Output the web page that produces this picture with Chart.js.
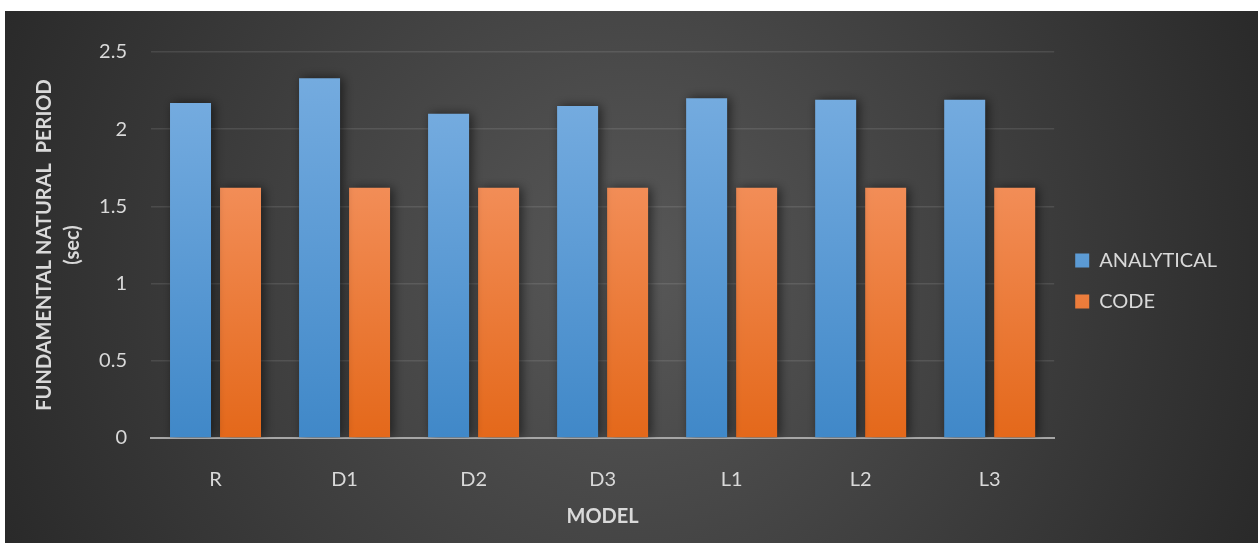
<!DOCTYPE html>
<html>
<head>
<meta charset="utf-8">
<script src="https://cdn.jsdelivr.net/npm/chart.js@4"></script>
<style>
  body { margin: 0; background: #fff; }
  #wrap { position: absolute; left: 5px; top: 11px; width: 1253px; height: 532px; }
</style>
</head>
<body>
<div id="wrap"><canvas id="periodChart"></canvas></div>
<script>
const models = ["R", "D1", "D2", "D3", "L1", "L2", "L3"];
const analytical = [2.17, 2.33, 2.10, 2.15, 2.20, 2.19, 2.19];
const code = [1.62, 1.62, 1.62, 1.62, 1.62, 1.62, 1.62];
const yTitle = ["FUNDAMENTAL NATURAL  PERIOD", "(sec)"];
const xTitle = "MODEL";

const FONT = "Lato";
const TEXT = "#d9d9d9";

// vertical gradient per bar, from the bar top down to zero
function barFill(top, bottom, mid) {
  return (c) => {
    const y = c.chart.scales.y;
    if (c.type !== "data" || !y) return mid;
    const y0 = y.getPixelForValue(c.raw), y1 = y.getPixelForValue(0);
    if (!isFinite(y0) || !isFinite(y1) || y0 === y1) return mid;
    const g = c.chart.ctx.createLinearGradient(0, y0, 0, y1);
    g.addColorStop(0, top);
    g.addColorStop(1, bottom);
    return g;
  };
}

const backdrop = {
  id: "backdrop",
  beforeDraw(chart) {
    const { ctx, width, height } = chart;
    const g = ctx.createRadialGradient(625, 260, 0, 625, 260, 720);
    g.addColorStop(0, "#585858");
    g.addColorStop(1, "#272727");
    ctx.save();
    ctx.fillStyle = g;
    ctx.fillRect(0, 0, width, height);
    ctx.restore();
  }
};

const barShadow = {
  id: "barShadow",
  beforeDatasetsDraw(chart) {
    const ctx = chart.ctx;
    ctx.save();
    ctx.shadowColor = "rgba(0,0,0,0.55)";
    ctx.shadowBlur = 10;
    ctx.shadowOffsetX = 3;
  },
  afterDatasetsDraw(chart) {
    chart.ctx.restore();
  }
};

new Chart(document.getElementById("periodChart"), {
  type: "bar",
  data: {
    labels: models,
    datasets: [
      {
        label: "ANALYTICAL",
        data: analytical,
        backgroundColor: barFill("#74abdf", "#4088c8", "#5a9bd5")
      },
      {
        label: "CODE",
        data: code,
        backgroundColor: barFill("#f28d57", "#e4681a", "#ed7d31")
      }
    ]
  },
  options: {
    responsive: true,
    maintainAspectRatio: false,
    animation: false,
    // bottom padding only nudges the legend up; the x axis takes it back below
    layout: { padding: { top: 41, right: 31, left: 0, bottom: 33 } },
    datasets: {
      bar: { categoryPercentage: 0.775, barPercentage: 0.82 }
    },
    scales: {
      x: {
        afterFit: (s) => { s.height = 72; },
        grid: { display: false, drawTicks: false },
        border: { color: "#a6a6a6", width: 2 },
        ticks: { color: TEXT, padding: 30, font: { family: FONT, size: 20 } },
        title: {
          display: true, text: xTitle, color: TEXT,
          padding: { top: 0, bottom: -19 },
          font: { family: FONT, size: 20, weight: "bold" }
        }
      },
      y: {
        min: 0, max: 2.5,
        afterFit: (s) => { s.width = 146; },
        border: { display: false },
        grid: { color: "rgba(255,255,255,0.10)", lineWidth: 1.5, drawTicks: false },
        ticks: {
          stepSize: 0.5, color: TEXT, padding: 24,
          font: { family: FONT, size: 20 },
          callback: (v) => String(Number(v))
        },
        title: {
          display: true, text: yTitle, color: TEXT,
          padding: { top: 26, bottom: 0 },
          font: { family: FONT, size: 20, weight: "bold", lineHeight: 1.4 }
        }
      }
    },
    plugins: {
      legend: {
        position: "right",
        align: "center",
        labels: {
          color: TEXT,
          boxWidth: 14, boxHeight: 14,
          padding: 21,
          font: { family: FONT, size: 20 }
        }
      },
      tooltip: { enabled: false }
    }
  },
  plugins: [backdrop, barShadow]
});
</script>
</body>
</html>
